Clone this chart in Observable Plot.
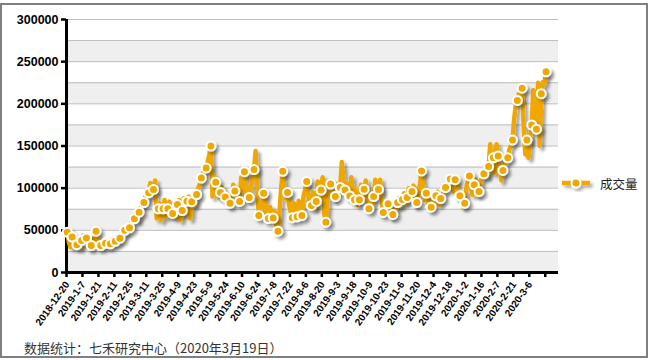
<!DOCTYPE html>
<html><head><meta charset="utf-8">
<script src="https://cdn.jsdelivr.net/npm/d3@7"></script>
<script src="https://cdn.jsdelivr.net/npm/@observablehq/plot@0.6"></script>
<style>
body{margin:0;background:#fff;width:651px;height:360px;position:relative;overflow:hidden;font-family:"Liberation Sans",Arial,sans-serif}
#frame{position:absolute;left:0;top:3px;width:648px;height:355px;border:2px solid #7f7f7f;box-sizing:border-box}
#chart{position:absolute;left:0;top:0}
#legend{position:absolute;left:559px;top:174px;display:flex;align-items:center}
#legend span{font-family:"Noto Sans CJK SC";font-size:12.5px;color:#222;margin-left:5px}
#caption{position:absolute;left:24px;top:338px;font-family:"Noto Sans CJK SC";font-size:13px;color:#333;white-space:nowrap}
</style></head><body>
<div id="frame"></div><div id="chart"></div><div id="legend"></div><div id="caption"></div>
<script>
const seriesName = "成交量";
const captionText = "数据统计：七禾研究中心（2020年3月19日）";
const tickLabels = ["2018-12-20","2019-1-7","2019-1-21","2019-2-11","2019-2-25","2019-3-11","2019-3-25","2019-4-9","2019-4-23","2019-5-9","2019-5-24","2019-6-10","2019-6-24","2019-7-8","2019-7-22","2019-8-6","2019-8-20","2019-9-3","2019-9-18","2019-10-9","2019-10-23","2019-11-6","2019-11-20","2019-12-4","2019-12-18","2020-1-2","2020-1-16","2020-2-7","2020-2-21","2020-3-6"];
const volume = [
47800,36000,30000, 42000,38000,30500, 33000,35000,29000, 38000,44000,35000,
41000,33000,29500, 32000,36000,42000, 49000,38000,30000, 32000,36000,31000,
34700,38000,30500, 34000,39000,33000, 37000,42000,36000, 40700,45000,44000,
50000,47000,52000, 53000,58000,66000, 63700,70000,62000, 71500,77000,80000,
83000,90000,86000, 94500,106000,96000, 98500,109000,64000, 75500,82000,62000,
75500,86000,66000, 75500,84000,68000, 70000,78000,65000, 80600,86000,62000,
73500,88000,70000, 84600,90000,64000, 84000,88000,80000, 92500,100000,104000,
112000,118000,120000, 124000,132000,140000, 150000,90000,115000, 107000,100000,89000,
95000,101000,88000, 89500,93000,80000, 82000,90000,104000, 96500,92000,82000,
84300,113000,98000, 119500,104000,86000, 88800,100000,112000, 122000,144000,100000,
67600,80000,76000, 94000,85000,70000, 64000,78000,68000, 64600,72000,55000,
49000,72000,100000, 120000,102000,88000, 95000,80000,72000, 65000,82000,70000,
66000,85000,75000, 67600,90000,98000, 108000,92000,82000, 79500,95000,76000,
84300,108000,86000, 97700,113000,70000, 59700,82000,96000, 104800,97000,86000,
90000,96000,105000, 100700,131000,110000, 97700,106000,95000, 90700,113000,88000,
86300,98000,80000, 86300,104000,92000, 98700,109000,84000, 75700,88000,80000,
90000,110000,94000, 98500,110000,86000, 71200,84000,74000, 81400,78000,66000,
68700,80000,75000, 83000,89000,79000, 86600,94000,82000, 89000,100000,86000,
96000,103000,80000, 83000,92000,105000, 120500,100000,86000, 94000,84000,76000,
77500,88000,84000, 91000,96000,80000, 87700,92000,96000, 100700,106000,108000,
111000,114000,96000, 110000,102000,88000, 91000,86000,78000, 82000,100000,108000,
114500,100000,92000, 104000,110000,92000, 96000,108000,112000, 117000,122000,114000,
125700,152000,120000, 136000,118000,152000, 138000,125000,109000, 121000,128000,132000,
136000,146000,150000, 157000,182000,198000, 204000,212000,210000, 218600,172000,140000,
157000,136000,160000, 175000,216000,182000, 170000,225000,150000, 212000,226000,224000,
238000
];
const yTicks = [0, 50000, 100000, 150000, 200000, 250000, 300000];
const gridValues = [25000, 50000, 75000, 100000, 125000, 150000, 175000, 200000, 225000, 250000, 275000, 300000];
const bandRanges = [[0, 25000], [50000, 75000], [100000, 125000], [150000, 175000], [200000, 225000], [250000, 275000]];
const markerEvery = 3;
const labelEvery = 10;
const xDomain = [-0.5, 307.8];
const orange = "#f0a800";

const pts = volume.map((v, i) => ({i, v}));
const marks = pts.filter(d => d.i % markerEvery === 0);
const labelIdx = tickLabels.map((_, k) => k * labelEvery);
const boundaries = d3.range(0, tickLabels.length + 1).map(k => k * labelEvery - 0.5);

const chart = Plot.plot({
  width: 651, height: 338,
  marginLeft: 66, marginRight: 93, marginTop: 19, marginBottom: 66,
  style: {fontFamily: "'Liberation Sans', Arial, sans-serif", fontWeight: "bold", fontSize: "10px", color: "#000", background: "transparent", overflow: "visible"},
  x: {type: "linear", domain: xDomain},
  y: {domain: [0, 300000]},
  marks: [
    Plot.rect(bandRanges, {x1: xDomain[0], x2: xDomain[1], y1: d => d[0], y2: d => d[1], fill: "#efefef"}),
    Plot.ruleY(gridValues, {stroke: "#bdbdbd", strokeWidth: 1}),
    Plot.axisY(yTicks, {tickSize: 5, tickPadding: 3, fontSize: 12.5, tickFormat: d => String(d), strokeWidth: 2.5, label: null}),
    Plot.axisX(labelIdx, {tickSize: 0, tickPadding: 10, tickRotate: -55, tickFormat: i => tickLabels[i / labelEvery], label: null}),
    Plot.axisX(boundaries, {tickSize: 5, tickFormat: () => "", strokeWidth: 2.5, label: null}),
    Plot.ruleX([xDomain[0]], {stroke: "#000", strokeWidth: 3}),
    Plot.ruleY([0], {stroke: "#000", strokeWidth: 3}),
    Plot.line(pts, {x: "i", y: "v", stroke: orange, strokeWidth: 4.5, strokeLinejoin: "round"}),
    Plot.dot(marks, {x: "i", y: "v", r: 4.5, fill: orange, stroke: "#fff", strokeWidth: 2})
  ]
});
const svg = d3.select(chart);
const defs = svg.insert("defs", ":first-child");
const f = defs.append("filter").attr("id", "sh").attr("x", "-20%").attr("y", "-20%").attr("width", "140%").attr("height", "140%");
f.append("feDropShadow").attr("dx", 3).attr("dy", 3).attr("stdDeviation", 1.6).attr("flood-color", "#000").attr("flood-opacity", 0.35);
svg.selectAll('g[aria-label="line"], g[aria-label="dot"]').attr("filter", "url(#sh)");
document.getElementById("chart").appendChild(chart);

// legend
const lg = d3.select("#legend");
const ls = lg.append("svg").attr("width", 36).attr("height", 16);
const ldefs = ls.append("defs");
const lf = ldefs.append("filter").attr("id", "sh2").attr("x", "-30%").attr("y", "-50%").attr("width", "160%").attr("height", "200%");
lf.append("feDropShadow").attr("dx", 2.5).attr("dy", 2.5).attr("stdDeviation", 1.4).attr("flood-color", "#000").attr("flood-opacity", 0.35);
const lgG = ls.append("g").attr("filter", "url(#sh2)");
lgG.append("line").attr("x1", 3).attr("x2", 31).attr("y1", 7).attr("y2", 7).attr("stroke", orange).attr("stroke-width", 4.5);
lgG.append("circle").attr("cx", 17).attr("cy", 7).attr("r", 4.5).attr("fill", orange).attr("stroke", "#fff").attr("stroke-width", 2);
lg.append("span").text(seriesName);
document.getElementById("caption").textContent = captionText;
</script>
</body></html>
